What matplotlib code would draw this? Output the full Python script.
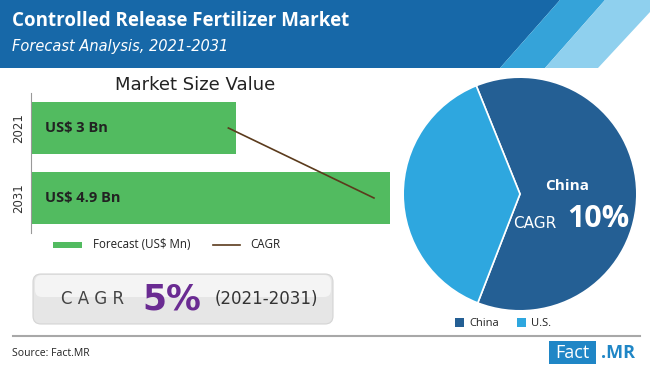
import matplotlib.pyplot as plt
from matplotlib.patches import Polygon, FancyBboxPatch, Rectangle

# data
years = ["2021", "2031"]
market_value = [3.0, 4.9]          # US$ Bn
bar_labels = ["US$ 3 Bn", "US$ 4.9 Bn"]
cagr_line = [2.9, 4.7]
regions = ["China", "U.S."]
region_share = [62, 38]

W, H = 650, 368
GREEN = "#52bb60"
DARK_BLUE = "#245f94"
LIGHT_BLUE = "#2ea7df"
HEADER = "#1768a8"


def px_axes(fig, x0, y0, x1, y1, **kw):
    # axes from pixel box (top-left origin)
    return fig.add_axes([x0 / W, 1 - y1 / H, (x1 - x0) / W, (y1 - y0) / H], **kw)


def ftext(x, y, s, **kw):
    # figure text at pixel position (top-left origin), drawn above all axes
    return fig.text(x / W, 1 - y / H, s, **kw)


fig = plt.figure(figsize=(W / 100, H / 100), dpi=100)
fig.patch.set_facecolor("white")

# background / decorations
bg = fig.add_axes([0, 0, 1, 1])
bg.set_xlim(0, W)
bg.set_ylim(H, 0)
bg.axis("off")
bg.add_patch(Polygon([(0, 0), (560, 0), (500, 68), (0, 68)], color=HEADER, lw=0))
bg.add_patch(Polygon([(560, 0), (605, 0), (545, 68), (500, 68)], color="#35a3d9", lw=0))
bg.add_patch(Polygon([(605, 0), (650, 0), (650, 12), (598, 68), (545, 68)], color="#8fd0ee", lw=0))
ftext(12, 21, "Controlled Release Fertilizer Market", color="white",
      fontsize=13.5, fontweight="bold", va="center", family="Open Sans")
ftext(12, 46, "Forecast Analysis, 2021-2031", color="white",
      fontsize=10.5, style="italic", va="center", family="DejaVu Sans")

ftext(195, 85, "Market Size Value", fontsize=13, ha="center", va="center",
      color="#222222", family="DejaVu Sans")

# CAGR box
bg.add_patch(FancyBboxPatch((33, 274), 300, 50, boxstyle="round,pad=0,rounding_size=8",
                            fc="#e6e6e6", ec="#d4d4d4", lw=0.8))
bg.add_patch(FancyBboxPatch((35, 275), 296, 22, boxstyle="round,pad=0,rounding_size=7",
                            fc="#f4f4f4", ec="none"))
ftext(93, 299, "C A G R", fontsize=12, ha="center", va="center", color="#444444",
      family="DejaVu Sans")
ftext(172, 299, "5%", fontsize=25, ha="center", va="center", color="#6a2b92",
      fontweight="bold", family="DejaVu Sans")
ftext(266, 299, "(2021-2031)", fontsize=12, ha="center", va="center", color="#333333",
      family="DejaVu Sans")

bg.plot([13, 640], [336, 336], color="#a8a8a8", lw=1.5)
ftext(12, 353, "Source: Fact.MR", fontsize=7.5, va="center", color="#222222",
      family="Open Sans")

# logo
bg.add_patch(Rectangle((549, 341), 47, 23, color="#1f86c6", lw=0))
ftext(572, 353, "Fact", fontsize=13, ha="center", va="center", color="white",
      family="Open Sans")
ftext(618, 353, ".MR", fontsize=13, ha="center", va="center", color="#1f86c6",
      fontweight="bold", family="Open Sans")

# bar chart
ax = px_axes(fig, 31, 93, 395, 233)
ax.barh(years, market_value, height=0.74, color=GREEN)
ax.plot(cagr_line, [0, 1], color="#5b3b1c", lw=1.2)
ax.set_xlim(0.46, 4.96)
ax.set_ylim(1.5, -0.5)
ax.set_xticks([])
for s in ["top", "right", "bottom"]:
    ax.spines[s].set_visible(False)
ax.spines["left"].set_color("#999999")
ax.tick_params(axis="y", length=0, pad=4, labelsize=8.5, labelcolor="#333333")
for lab in ax.get_yticklabels():
    lab.set_rotation(90)
    lab.set_va("center")
for i, t in enumerate(bar_labels):
    ax.text(0.63, i, t, fontsize=10.5, fontweight="bold", va="center", color="#222222",
            family="Open Sans")

# bar legend
bg.add_patch(Rectangle((53, 242), 29, 6, color=GREEN, lw=0))
ftext(93, 245, "Forecast (US$ Mn)", fontsize=8.3, va="center", color="#222222",
      family="Open Sans")
bg.plot([213, 240], [245, 245], color="#5b3b1c", lw=1.2)
ftext(250, 245, "CAGR", fontsize=8.3, va="center", color="#222222", family="Open Sans")

# pie chart
pax = px_axes(fig, 402, 76, 638, 312)
pax.pie(region_share, colors=[DARK_BLUE, LIGHT_BLUE], startangle=112, counterclock=False,
        wedgeprops=dict(edgecolor="white", linewidth=1.2))
pax.set_xlim(-1.01, 1.01)
pax.set_ylim(-1.01, 1.01)
pax.set_aspect("equal")
ftext(567, 186, "China", fontsize=11, fontweight="bold", color="white", ha="center",
      va="center", family="Open Sans")
ftext(535, 223, "CAGR", fontsize=11, color="white", ha="center", va="center",
      family="DejaVu Sans")
ftext(598, 219, "10%", fontsize=22, fontweight="bold", color="white", ha="center",
      va="center", family="Open Sans")

# pie legend
bg.add_patch(Rectangle((455, 318), 9, 9, color=DARK_BLUE, lw=0))
ftext(469, 323, regions[0], fontsize=8, va="center", color="#222222", family="Open Sans")
bg.add_patch(Rectangle((517, 318), 9, 9, color=LIGHT_BLUE, lw=0))
ftext(531, 323, regions[1], fontsize=8, va="center", color="#222222", family="Open Sans")

fig.savefig("out.png", dpi=100)
